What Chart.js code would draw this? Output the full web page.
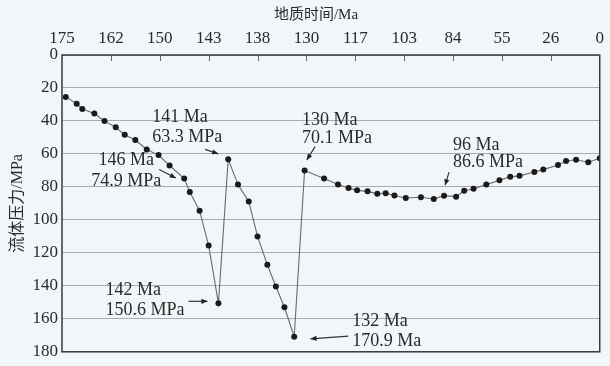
<!DOCTYPE html>
<html>
<head>
<meta charset="utf-8">
<script src="https://cdn.jsdelivr.net/npm/chart.js@4/dist/chart.umd.min.js"></script>
<style>
html,body{margin:0;padding:0;background:#f2f6f9;}
canvas{display:block;}
</style>
</head>
<body>
<canvas id="c" width="610" height="366"></canvas>
<script>
// ---- data ----
const ageTicks = [175, 162, 150, 143, 138, 130, 117, 103, 84, 55, 26, 0];   // Ma (top axis labels)
const pressureTicks = [0, 20, 40, 60, 80, 100, 120, 140, 160, 180];          // MPa
const ages = [174.0, 171.1, 169.6, 166.4, 163.7, 160.8, 158.6, 156.0, 153.2, 150.3,
              148.6, 146.5, 145.7, 144.3, 143.0, 142.0, 141.0, 140.0, 138.9, 138.0,
              136.4, 135.0, 133.6, 132.0, 130.3, 125.3, 121.6, 118.8, 116.5, 113.5,
              110.7, 108.3, 105.8, 102.4, 96.5, 91.5, 87.5, 82.2, 77.4, 71.9,
              64.3, 56.5, 50.1, 44.6, 35.8, 30.5, 22.2, 17.9, 12.6, 6.1, 0];
const pressures = [25.4, 29.6, 32.8, 35.5, 40.1, 43.8, 48.4, 51.6, 57.3, 60.7,
                   67.0, 74.9, 83.1, 94.4, 115.6, 150.6, 63.3, 78.6, 88.9, 110.0,
                   127.2, 140.4, 153.0, 170.9, 70.1, 74.9, 78.5, 80.6, 82.1, 82.7,
                   84.2, 83.8, 85.2, 86.7, 86.3, 87.3, 85.3, 85.9, 82.3, 81.1,
                   78.6, 76.0, 73.9, 73.3, 71.0, 69.5, 66.7, 64.3, 63.5, 65.0, 62.6];
const noteTexts = [["141 Ma", "63.3 MPa"], ["146 Ma", "74.9 MPa"], ["142 Ma", "150.6 MPa"],
                   ["130 Ma", "70.1 MPa"], ["96 Ma", "86.6 MPa"], ["132 Ma", "170.9 Ma"]];
const notePointIndex = [16, 11, 15, 24, 36, 23];
const xTitle = "地质时间/Ma";
const yTitle = "流体压力/MPa";

// ---- layout / style (not data) ----
const noteLayout = [
  {align:'left',   dx:-76,  y1:-42,   y2:-22,  from:[-23,-10],  to:[-10,-5.5]},
  {align:'center', dx:-58,  y1:-18.5, y2:2.5,  from:[-25,-9],   to:[-8.4,-0.5]},
  {align:'left',   dx:-113, y1:-13,   y2:7,    from:[-30,-2],   to:[-11,-2]},
  {align:'left',   dx:-2.5, y1:-50.7, y2:-32.7,from:[10.5,-24], to:[2.2,-10.7]},
  {align:'left',   dx:9,    y1:-50.5, y2:-33.5,from:[5,-23.5],  to:[1,-10.5]},
  {align:'left',   dx:58,   y1:-15.7, y2:4.3,  from:[54,-0.7],  to:[16.3,2]}
];
const TXT = '#2a2a2a';
const SERIF = "'Liberation Serif','Noto Sans CJK SC',serif";

// piecewise mapping of age (Ma) onto the evenly spaced top-axis tick slots
function ageToPos(age){
  for(let i=0;i<ageTicks.length-1;i++){
    const a=ageTicks[i], b=ageTicks[i+1];
    if(age<=a && age>=b) return i + (a-age)/(a-b);
  }
  return age>ageTicks[0]?0:ageTicks.length-1;
}
const points = ages.map((a,i)=>({x:ageToPos(a), y:pressures[i]}));

const decor = {
  id:'decor',
  beforeDraw(chart){
    const c=chart.ctx;
    c.save(); c.fillStyle='#f2f6f9'; c.fillRect(0,0,chart.width,chart.height); c.restore();
  },
  afterDraw(chart){
    const c=chart.ctx, a=chart.chartArea, xs=chart.scales.x, ys=chart.scales.y;
    c.save();
    // frame
    c.strokeStyle='#3a3a3a'; c.lineWidth=1.5;
    c.strokeRect(a.left,a.top,a.right-a.left,a.bottom-a.top);
    // inward tick marks on top axis
    c.lineWidth=1; c.strokeStyle='#666';
    for(let i=1;i<ageTicks.length-1;i++){
      const x=Math.round(xs.getPixelForValue(i))+0.5;
      c.beginPath(); c.moveTo(x,a.top); c.lineTo(x,a.top+6); c.stroke();
    }
    // titles
    c.fillStyle=TXT; c.textAlign='center'; c.textBaseline='middle';
    c.font="15px "+SERIF;
    c.fillText(xTitle, 316, 15);
    c.font="16px "+SERIF;
    c.save(); c.translate(18,(a.top+a.bottom)/2); c.rotate(-Math.PI/2);
    c.fillText(yTitle,0,0); c.restore();
    // annotations
    c.font="18px "+SERIF; c.textBaseline='middle';
    noteTexts.forEach((lines,k)=>{
      const L=noteLayout[k], idx=notePointIndex[k];
      const px=xs.getPixelForValue(points[idx].x), py=ys.getPixelForValue(points[idx].y);
      c.textAlign=L.align; c.fillStyle=TXT;
      c.fillText(lines[0],px+L.dx,py+L.y1);
      c.fillText(lines[1],px+L.dx,py+L.y2);
      const x1=px+L.from[0], y1=py+L.from[1], x2=px+L.to[0], y2=py+L.to[1];
      c.strokeStyle='#333'; c.lineWidth=1.2;
      c.beginPath(); c.moveTo(x1,y1); c.lineTo(x2,y2); c.stroke();
      const ang=Math.atan2(y2-y1,x2-x1), len=6, w=2.6;
      c.fillStyle='#222'; c.beginPath();
      c.moveTo(x2,y2);
      c.lineTo(x2-len*Math.cos(ang)+w*Math.sin(ang), y2-len*Math.sin(ang)-w*Math.cos(ang));
      c.lineTo(x2-len*Math.cos(ang)-w*Math.sin(ang), y2-len*Math.sin(ang)+w*Math.cos(ang));
      c.closePath(); c.fill();
    });
    c.restore();
  }
};

new Chart(document.getElementById('c'), {
  type:'line',
  data:{datasets:[{
    data:points,
    borderColor:'#6a6a6a', borderWidth:1.1, tension:0,
    pointRadius:3, pointBackgroundColor:'#1a1a1a', pointBorderColor:'#1a1a1a', pointBorderWidth:0,
    fill:false
  }]},
  options:{
    responsive:false, animation:false, devicePixelRatio:1,
    layout:{padding:{left:0,right:7,top:0,bottom:8}},
    plugins:{legend:{display:false}, tooltip:{enabled:false}},
    scales:{
      x:{
        type:'linear', position:'top', min:0, max:ageTicks.length-1,
        afterFit(s){ s.height=55; },
        afterBuildTicks(s){ s.ticks = ageTicks.map((_,i)=>({value:i})); },
        ticks:{ callback:(v)=>ageTicks[v], autoSkip:false, maxRotation:0, padding:6,
                font:{family:SERIF,size:17}, color:TXT },
        grid:{drawOnChartArea:false, drawTicks:false},
        border:{display:false}
      },
      y:{
        type:'linear', reverse:true, min:0, max:180,
        afterFit(s){ s.width=62; },
        afterBuildTicks(s){ s.ticks = pressureTicks.map(v=>({value:v})); },
        ticks:{ padding:4, font:{family:SERIF,size:17}, color:TXT },
        grid:{color:'#a8acb0', lineWidth:1, drawTicks:false},
        border:{display:false}
      }
    }
  },
  plugins:[decor]
});
</script>
</body>
</html>
